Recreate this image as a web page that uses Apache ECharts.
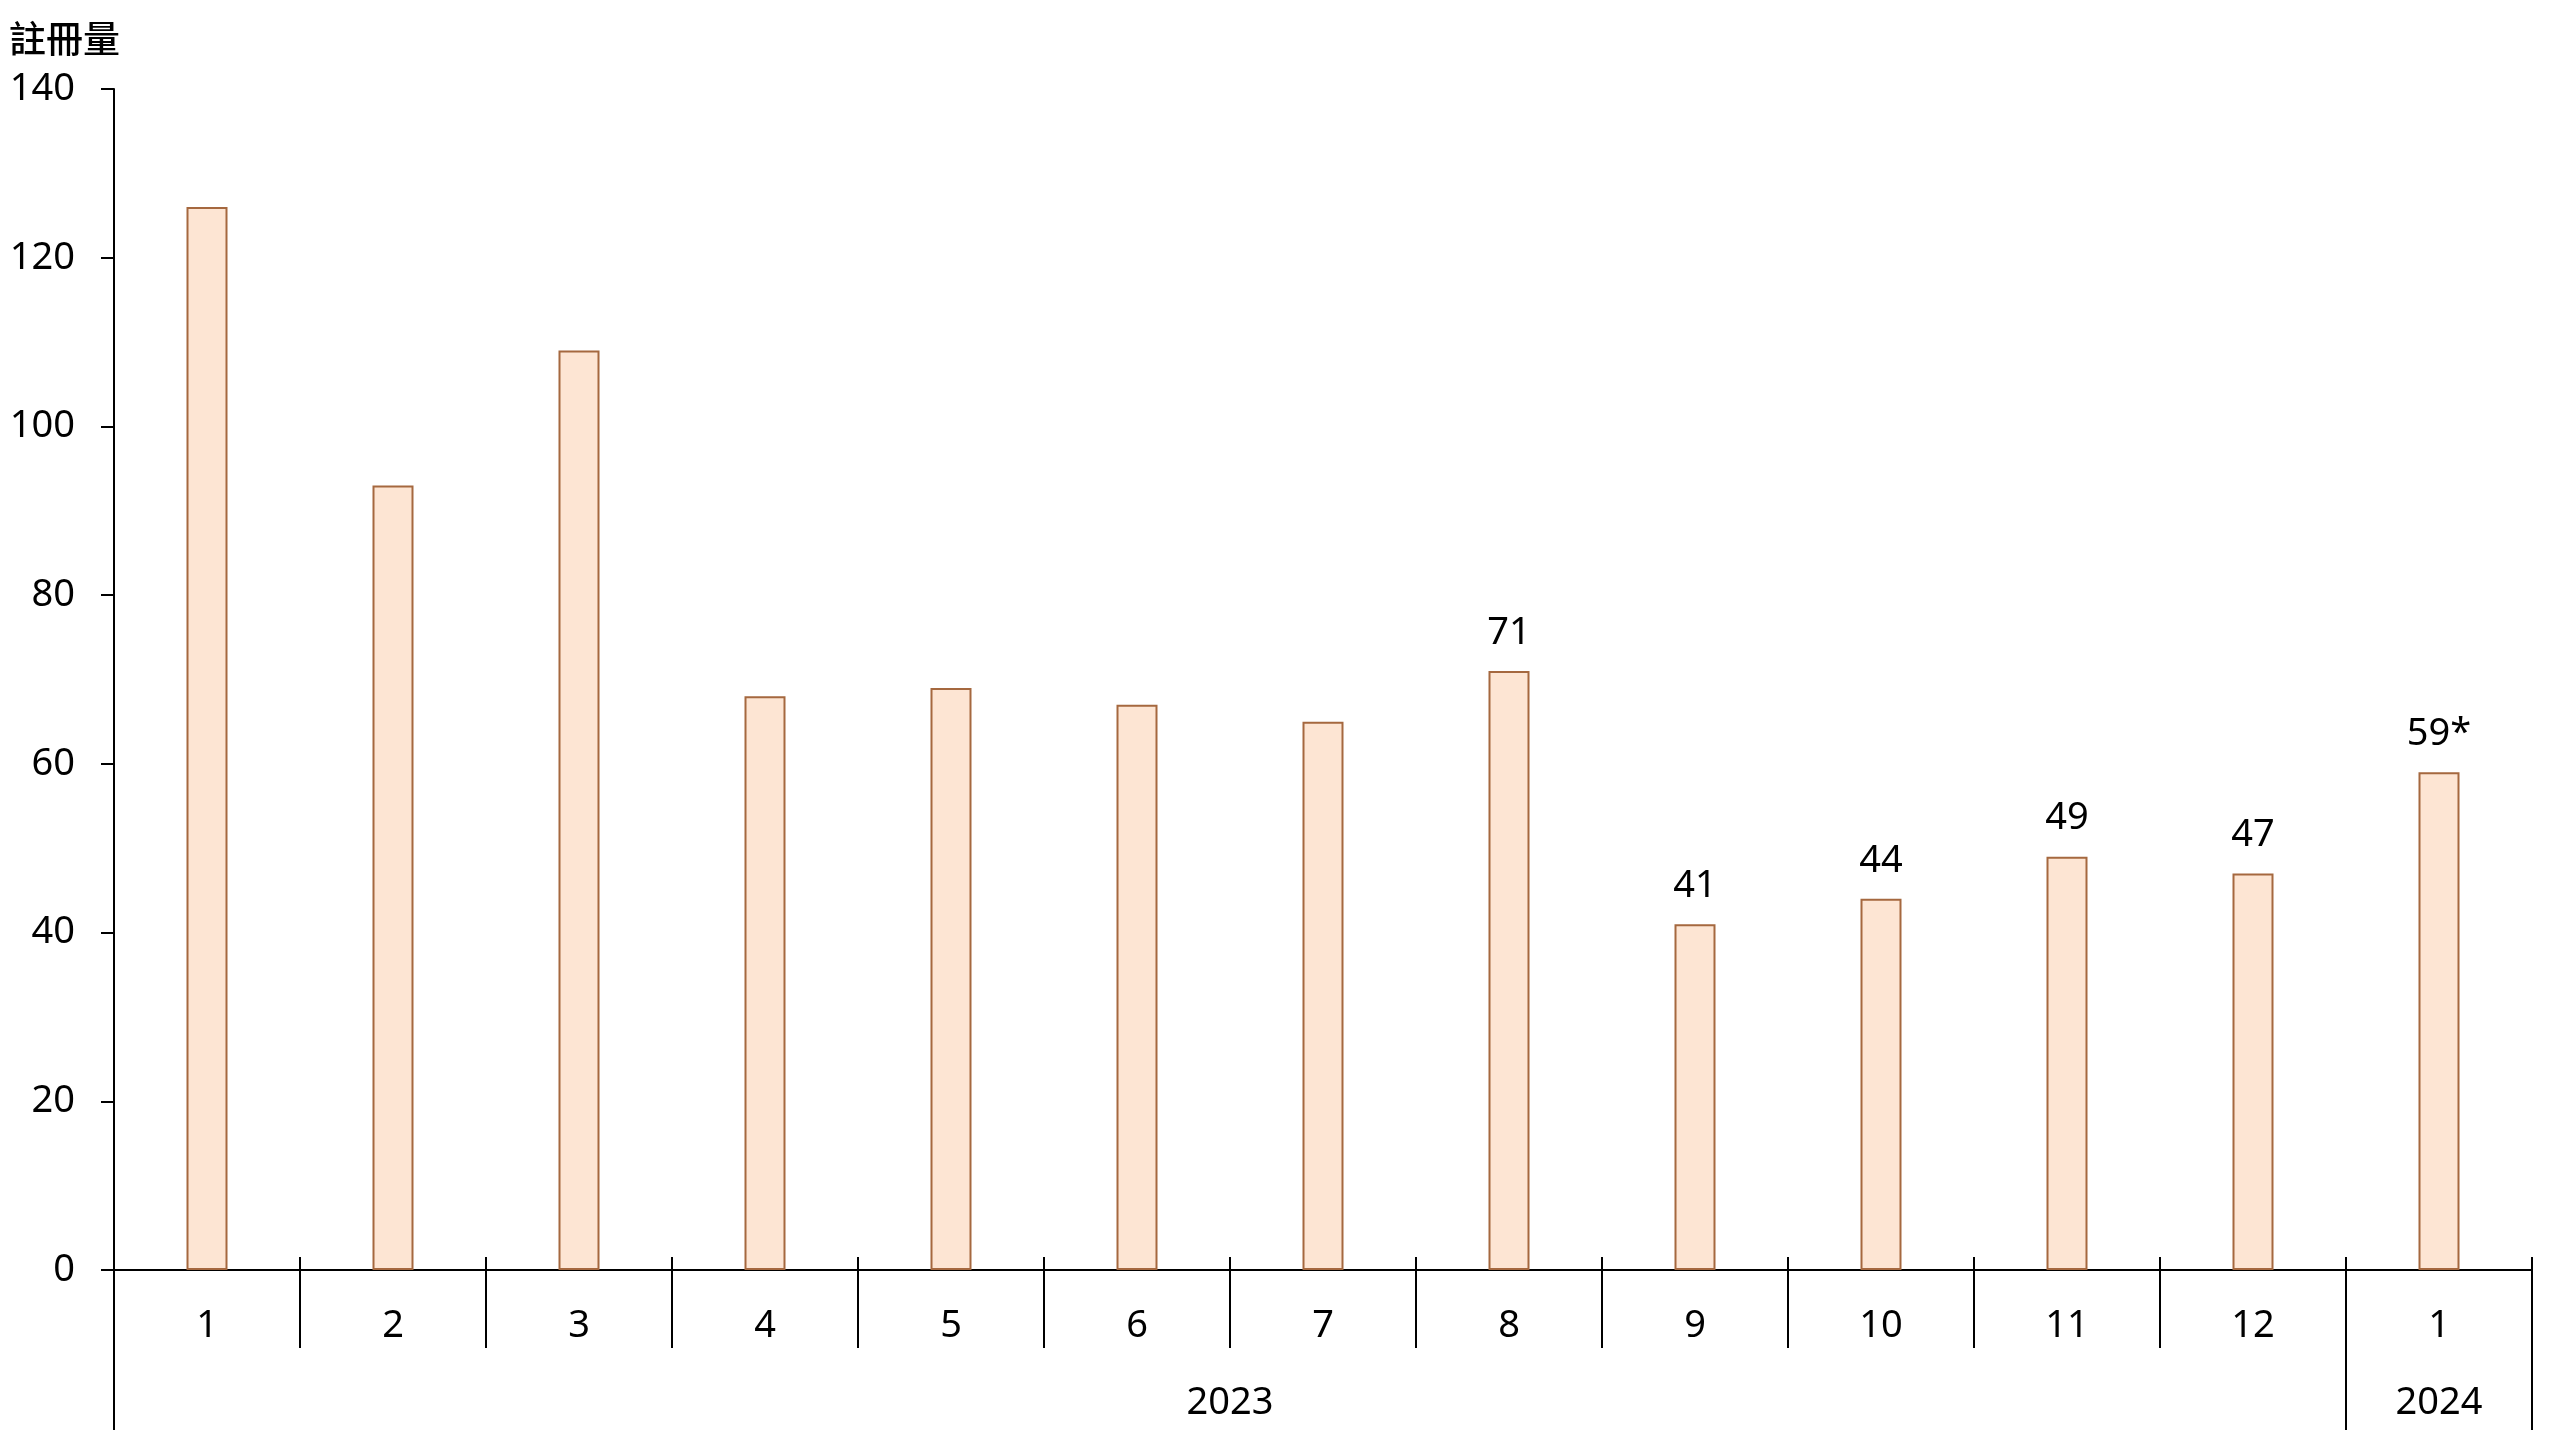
<!DOCTYPE html>
<html>
<head>
<meta charset="utf-8">
<script src="https://cdn.jsdelivr.net/npm/echarts@6/dist/echarts.min.js"></script>
<style>
html,body{margin:0;padding:0;background:#fff;}
#chart{width:2560px;height:1440px;}
</style>
</head>
<body>
<div id="chart"></div>
<script>
// ---- data ----
const months = ['1','2','3','4','5','6','7','8','9','10','11','12','1'];
const values = [126, 93, 109, 68, 69, 67, 65, 71, 41, 44, 49, 47, 59];
const valueLabels = ['', '', '', '', '', '', '', '71', '41', '44', '49', '47', '59*'];
// year row: half-month slots (27 boundary points); labels sit at the centre of each year's span
const yearSlots = ['', '', '', '', '', '', '', '', '', '', '', '', '2023', '', '', '', '', '', '', '', '', '', '', '', '', '2024', ''];
const yearDividers = [0, 24, 26];
const yMin = 0, yMax = 140, yStep = 20;
const yTitle = '註冊量';

const FONT = '"Noto Sans", "Noto Sans CJK TC", sans-serif';
const FS = 38;

const chart = echarts.init(document.getElementById('chart'), null, {renderer: 'canvas'});
chart.setOption({
  backgroundColor: '#ffffff',
  animation: false,
  title: {
    text: yTitle,
    left: 4,
    top: 15,
    textStyle: {fontFamily: '"Noto Sans CJK TC", sans-serif', fontSize: 37, fontWeight: 500, color: '#000'}
  },
  grid: {left: 114, right: 28, top: 89, bottom: 170, containLabel: false, outerBoundsMode: 'none'},
  xAxis: [
    {
      type: 'category', data: months, position: 'bottom',
      axisLine: {show: true, lineStyle: {color: '#000', width: 2}},
      axisTick: {show: true, inside: true, length: 13, lineStyle: {color: '#000', width: 2}},
      axisLabel: {interval: 0, margin: 37, fontSize: FS, fontFamily: FONT, color: '#000'},
      splitLine: {show: false}
    },
    {
      type: 'category', data: months, position: 'bottom',
      axisLine: {show: false},
      axisTick: {show: true, inside: false, length: 78, lineStyle: {color: '#000', width: 2}},
      axisLabel: {show: false},
      splitLine: {show: false}
    },
    {
      type: 'category', data: yearSlots, position: 'bottom', boundaryGap: false,
      axisLine: {show: false},
      axisTick: {show: true, inside: false, length: 160,
        interval: function (i) { return yearDividers.indexOf(i) >= 0; },
        lineStyle: {color: '#000', width: 2}},
      axisLabel: {show: true, margin: 114,
        interval: function (i, v) { return v !== ''; },
        fontSize: FS, fontFamily: FONT, color: '#000'},
      splitLine: {show: false}
    }
  ],
  yAxis: {
    type: 'value', min: yMin, max: yMax, interval: yStep,
    axisLine: {show: true, lineStyle: {color: '#000', width: 2}},
    axisTick: {show: true, inside: false, length: 13, lineStyle: {color: '#000', width: 2}},
    axisLabel: {margin: 39, fontSize: FS, fontFamily: FONT, color: '#000'},
    splitLine: {show: false}
  },
  series: [{
    type: 'bar',
    xAxisIndex: 0,
    barWidth: 41,
    data: values.map(function (v, i) {
      return {value: v, label: {show: valueLabels[i] !== ''}};
    }),
    itemStyle: {color: '#FDE5D3', borderColor: '#A5683F', borderWidth: 2},
    label: {
      position: 'top', distance: 19,
      formatter: function (p) { return valueLabels[p.dataIndex]; },
      fontSize: FS, fontFamily: FONT, color: '#000'
    }
  }]
});
</script>
</body>
</html>
